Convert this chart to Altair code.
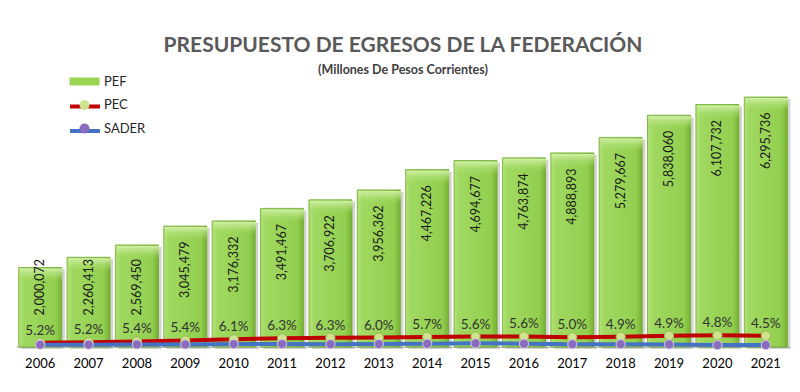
import altair as alt
import pandas as pd

years = [str(y) for y in range(2006, 2022)]
pef = [2000072, 2260413, 2569450, 3045479, 3176332, 3491467, 3706922, 3956362,
       4467226, 4694677, 4763874, 4888893, 5279667, 5838060, 6107732, 6295736]
pct_labels = ["5.2%", "5.2%", "5.4%", "5.4%", "6.1%", "6.3%", "6.3%", "6.0%",
              "5.7%", "5.6%", "5.6%", "5.0%", "4.9%", "4.9%", "4.8%", "4.5%"]
pec = [104004, 117541, 138750, 164456, 193756, 219962, 233536, 237382,
       254632, 262902, 266777, 244445, 258704, 286065, 293171, 283308]
sader = [58000, 58400, 64000, 65000, 73000, 73800, 71400, 75400,
         82900, 92100, 84800, 70600, 72100, 65400, 47600, 49300]

bars_df = pd.DataFrame({"year": years, "PEF": pef})
rows = []
for i, y in enumerate(years):
    rows.append({"year": y, "series": "PEC", "skey": "PEC_l", "value": pec[i], "label": pct_labels[i]})
for i, y in enumerate(years):
    rows.append({"year": y, "series": "SADER", "skey": "SADER_l", "value": sader[i], "label": ""})
lines_df = pd.DataFrame(rows)

YMAX = 6725000
xenc = alt.X("year:N", sort=years,
             scale=alt.Scale(paddingInner=0.11, paddingOuter=0.055),
             axis=alt.Axis(title=None, labelAngle=0, ticks=False, domainColor="#bfbfbf",
                           domainWidth=1, labelFont="Lato", labelFontSize=13,
                           labelColor="#000000", labelPadding=10, grid=False))
yscale = alt.Scale(domain=[0, YMAX], nice=False, zero=True)

grad = alt.LinearGradient(
    gradient="linear", x1=0, y1=0, x2=1, y2=0,
    stops=[alt.GradientStop(offset=0, color="#b2e27a"),
           alt.GradientStop(offset=0.12, color="#a0d960"),
           alt.GradientStop(offset=0.85, color="#92cf4f"),
           alt.GradientStop(offset=1, color="#76b032")])
capgrad = alt.LinearGradient(
    gradient="linear", x1=0, y1=0, x2=0, y2=1,
    stops=[alt.GradientStop(offset=0, color="#d2f0a8"),
           alt.GradientStop(offset=1, color="rgba(160,217,96,0)")])

shadow = alt.Chart(bars_df).mark_bar(color="#808080", opacity=0.35, xOffset=3, yOffset=2).encode(
    x=xenc, y=alt.Y("PEF:Q", scale=yscale, axis=None))

bars = alt.Chart(bars_df).mark_bar(color=grad, stroke="#6fa72f", strokeWidth=0.8).encode(
    x=xenc, y=alt.Y("PEF:Q", scale=yscale, axis=None))

caps = alt.Chart(bars_df).transform_calculate(
    cap="datum.PEF - 360000"
).mark_bar(color=capgrad, x2Offset=-1, xOffset=1, yOffset=1).encode(
    x=xenc, y=alt.Y("PEF:Q", scale=yscale, axis=None), y2="cap:Q")

bar_labels = alt.Chart(bars_df).transform_calculate(
    ly="max(datum.PEF - 390000, 2216000)"
).mark_text(angle=270, align="right", baseline="middle", font="Lato",
            fontSize=12.5, color="#1a1a1a").encode(
    x=xenc, y=alt.Y("ly:Q", scale=yscale, axis=None),
    text=alt.Text("PEF:Q", format=","))

rect_path = "M-3,-0.8L3,-0.8L3,0.8L-3,0.8Z"
common_leg = dict(orient="none", legendX=62, legendY=-5, title=None, padding=0,
                  symbolSize=100, labelOffset=13, rowPadding=8.5, labelFont="Lato",
                  labelFontSize=13, symbolOffset=0)

lines = alt.Chart(lines_df).mark_line(strokeWidth=4).encode(
    x=xenc, y=alt.Y("value:Q", scale=yscale, axis=None),
    stroke=alt.Stroke("skey:N",
                      scale=alt.Scale(domain=["PEF_l", "PEC_l", "SADER_l"],
                                      range=["rgba(0,0,0,0)", "#c00000", "#4472c4"]),
                      legend=alt.Legend(symbolType="M-3,0L3,0", symbolStrokeWidth=4,
                                        labelExpr="''", zindex=1, **common_leg)))

leg_a = alt.Legend(labelColor="#262626", symbolStrokeWidth=1, symbolStrokeColor="#6f9a33",
                   zindex=2, **common_leg)
points = alt.Chart(lines_df).mark_point(filled=True, size=85, strokeWidth=1, opacity=1).encode(
    x=xenc, y=alt.Y("value:Q", scale=yscale, axis=None),
    fill=alt.Fill("series:N",
                  scale=alt.Scale(domain=["PEF", "PEC", "SADER"],
                                  range=["#9ad452", "#cfe38f", "#8a6bbd"]),
                  legend=leg_a),
    shape=alt.Shape("series:N",
                    scale=alt.Scale(domain=["PEF", "PEC", "SADER"],
                                    range=[rect_path, "circle", "circle"]),
                    legend=leg_a),
    stroke=alt.condition(alt.datum.series == "PEC", alt.value("#9bbb59"), alt.value("#d9cdea")))

pct_text = alt.Chart(lines_df).transform_filter(alt.datum.series == "PEC").mark_text(
    dy=-12, baseline="middle", font="Lato", fontSize=13.5, color="#333333").encode(
    x=xenc, y=alt.Y("value:Q", scale=yscale, axis=None), text="label:N")

chart = alt.layer(shadow, bars, caps, bar_labels, lines, points, pct_text).resolve_scale(
    fill="independent", stroke="independent", shape="independent"
).properties(
    width=774, height=267,
    autosize=alt.AutoSizeParams(type="none"),
    padding={"left": 8, "top": 72, "right": 2, "bottom": 36},
    title=alt.TitleParams(text="PRESUPUESTO DE EGRESOS DE LA FEDERACIÓN",
                          subtitle="(Millones De Pesos Corrientes)",
                          font="Lato", fontSize=21, fontWeight="bold", color="#595959",
                          subtitleFont="Lato", subtitleFontSize=12.5,
                          subtitleFontWeight="bold", subtitleColor="#404040",
                          anchor="middle", offset=-1, subtitlePadding=8)
).configure_view(stroke=None)

chart.save("out.html", embed_options={"renderer": "svg", "actions": False})
